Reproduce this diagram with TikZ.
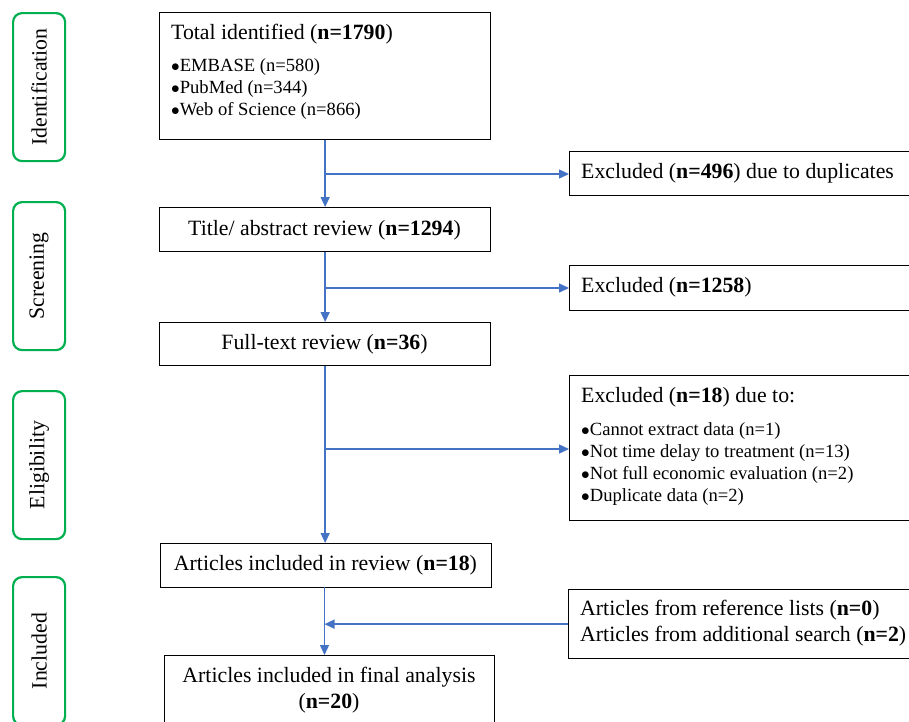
\documentclass[tikz,border=0pt]{standalone}
\usepackage{fontspec}
\setmainfont{Liberation Serif}
\usetikzlibrary{arrows.meta}
\definecolor{flowblue}{HTML}{4472C4}
\definecolor{stagegreen}{HTML}{00B050}
\newcommand{\blt}{$\bullet$}
\tikzset{
  box/.style={draw=black, line width=1.3pt, inner sep=0pt, anchor=north west},
  stage/.style={draw=stagegreen, line width=2.2pt, rounded corners=9pt, inner sep=0pt, anchor=north west, minimum width=52pt},
  stagetext/.style={font=\fontsize{21.8}{26}\selectfont, inner sep=0pt, rotate=90},
  bigl/.style={font=\fontsize{21.8}{26}\selectfont, inner sep=0pt, anchor=base west},
  bigc/.style={font=\fontsize{21.8}{26}\selectfont, inner sep=0pt, anchor=base},
  small/.style={font=\fontsize{18.6}{22}\selectfont, inner sep=0pt, anchor=base west},
  flow/.style={draw=flowblue, line width=1.4pt, -{Triangle[length=10pt,width=9pt]}},
}
\begin{document}
\begin{tikzpicture}[x=1pt,y=-1pt]
\clip (0,0) rectangle (909,721);
\fill[white] (0,0) rectangle (909,721);

% stage labels
\node[stage, minimum height=148pt] (s1) at (12,12) {};
\node[stagetext] (s1t) at (s1.center) {Identification};
\node[stage, minimum height=148pt] (s2) at (12,201) {};
\node[stagetext] (s2t) at (s2.center) {Screening};
\node[stage, minimum height=148pt] (s3) at (12,390) {};
\node[stagetext] (s3t) at (s3.center) {Eligibility};
\node[stage, minimum height=148pt] (s4) at (12,576) {};
\node[stagetext] (s4t) at (s4.center) {Included};

% main column
\node[box, minimum width=331pt, minimum height=127pt] (tot) at (159,12) {};
\node[bigl] (tott) at (171,39) {Total identified (\textbf{n=1790})};
\node[small] (b1) at (171,71) {\blt EMBASE (n=580)};
\node[small] (b2) at (171,93) {\blt PubMed (n=344)};
\node[small] (b3) at (171,115) {\blt Web of Science (n=866)};

\node[box, minimum width=331pt, minimum height=44pt] (tit) at (159,207) {};
\node[bigc] (titt) at (324.5,235) {Title/ abstract review (\textbf{n=1294})};

\node[box, minimum width=331pt, minimum height=43pt] (ft) at (159,322) {};
\node[bigc] (ftt) at (324.5,349) {Full-text review (\textbf{n=36})};

\node[box, minimum width=331pt, minimum height=44pt] (rev) at (160,543) {};
\node[bigc] (revt) at (325.5,570) {Articles included in review (\textbf{n=18})};

\node[box, minimum width=330pt, minimum height=80pt] (fin) at (164,655) {};
\node[bigc] (fint1) at (329,682) {Articles included in final analysis};
\node[bigc] (fint2) at (329,708) {(\textbf{n=20})};

% right column
\node[box, minimum width=345pt, minimum height=44pt] (ex1) at (569,151) {};
\node[bigl] (ex1t) at (581,178) {Excluded (\textbf{n=496}) due to duplicates};

\node[box, minimum width=345pt, minimum height=45pt] (ex2) at (569,265) {};
\node[bigl] (ex2t) at (581,292) {Excluded (\textbf{n=1258})};

\node[box, minimum width=345pt, minimum height=145pt] (ex3) at (569,375) {};
\node[bigl] (ex3t) at (581,402) {Excluded (\textbf{n=18}) due to:};
\node[small] (e1) at (581,435) {\blt Cannot extract data (n=1)};
\node[small] (e2) at (581,457) {\blt Not time delay to treatment (n=13)};
\node[small] (e3) at (581,479) {\blt Not full economic evaluation (n=2)};
\node[small] (e4) at (581,501) {\blt Duplicate data (n=2)};

\node[box, minimum width=345pt, minimum height=69pt] (ref) at (568,589) {};
\node[bigl] (reft1) at (580,615) {Articles from reference lists (\textbf{n=0})};
\node[bigl] (reft2) at (580,641) {Articles from additional search (\textbf{n=2})};

% connectors
\draw[flow] (tot.south) -- (tit.north);
\coordinate (j1) at (324.5,174);
\draw[flow] (j1) -- (j1 -| ex1.west);

\draw[flow] (tit.south) -- (ft.north);
\coordinate (j2) at (324.5,288);
\draw[flow] (j2) -- (j2 -| ex2.west);

\draw[flow] (ft.south) -- (ft.south |- rev.north);
\coordinate (j3) at (324.5,449);
\draw[flow] (j3) -- (j3 -| ex3.west);

\coordinate (j4) at (324.5,587);
\draw[flow] (j4) -- (j4 |- fin.north);
\draw[flow] (ref.west) -- (ref.west -| j4);
\end{tikzpicture}
\end{document}
